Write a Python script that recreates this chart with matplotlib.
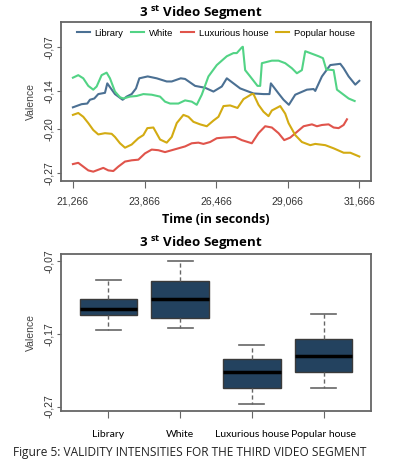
import matplotlib
matplotlib.use("Agg")
import matplotlib.pyplot as plt
from matplotlib.ticker import FuncFormatter

plt.rcParams["font.family"] = ["Liberation Sans", "DejaVu Sans"]
plt.rcParams["mathtext.fontset"] = "custom"
plt.rcParams["mathtext.rm"] = "Open Sans"
plt.rcParams["mathtext.bf"] = "Open Sans:bold"

# line chart data (time in seconds, valence)
library_t = [21266, 21581, 21787, 21884, 22042, 22187, 22430, 22514, 22611, 22793,
             23072, 23217, 23399, 23557, 23678, 23981, 24308, 24672, 24854, 25181,
             25339, 25702, 26066, 26369, 26672, 26854, 27096, 27339, 27823, 28187,
             28405, 28454, 28733, 28914, 29108, 29339, 29763, 30005, 30066, 30308,
             30611, 30975, 31096, 31278, 31520, 31666]
library_v = [-0.166, -0.161, -0.160, -0.154, -0.152, -0.145, -0.143, -0.128, -0.134, -0.145,
             -0.154, -0.149, -0.145, -0.136, -0.120, -0.117, -0.120, -0.125, -0.125, -0.120,
             -0.121, -0.132, -0.135, -0.141, -0.133, -0.120, -0.128, -0.136, -0.144, -0.145,
             -0.145, -0.128, -0.144, -0.154, -0.162, -0.146, -0.138, -0.137, -0.140, -0.117,
             -0.099, -0.097, -0.104, -0.117, -0.130, -0.124]

white_t = [21266, 21460, 21642, 21824, 22005, 22127, 22308, 22490, 22611, 22793,
           22975, 23096, 23339, 23581, 23824, 24127, 24430, 24611, 24793, 25096,
           25339, 25581, 25763, 25945, 26187, 26490, 26854, 27096, 27217, 27399,
           27436, 27520, 27702, 27969, 28066, 28127, 28490, 28733, 28975, 29217,
           29399, 29581, 29702, 29884, 30187, 30345, 30466, 30733, 30854, 31096,
           31278, 31496]
white_v = [-0.119, -0.115, -0.120, -0.132, -0.138, -0.133, -0.115, -0.111, -0.120, -0.141,
           -0.150, -0.152, -0.149, -0.148, -0.145, -0.146, -0.149, -0.157, -0.160, -0.160,
           -0.155, -0.157, -0.162, -0.146, -0.117, -0.099, -0.085, -0.080, -0.080, -0.071,
           -0.070, -0.107, -0.117, -0.132, -0.132, -0.096, -0.092, -0.092, -0.096, -0.104,
           -0.112, -0.107, -0.077, -0.080, -0.085, -0.088, -0.106, -0.107, -0.138, -0.146,
           -0.152, -0.156]

luxurious_t = [21266, 21460, 21642, 21824, 22005, 22187, 22369, 22551, 22733, 22914,
               23157, 23399, 23642, 23884, 24127, 24369, 24611, 24854, 25096, 25339,
               25581, 25823, 26005, 26248, 26490, 26733, 27157, 27399, 27763, 28005,
               28248, 28490, 28733, 28939, 29157, 29399, 29642, 29945, 30127, 30308,
               30551, 30733, 30914, 31096, 31217]
luxurious_v = [-0.256, -0.254, -0.260, -0.266, -0.268, -0.265, -0.262, -0.266, -0.267, -0.260,
               -0.252, -0.250, -0.249, -0.239, -0.233, -0.234, -0.237, -0.234, -0.231, -0.228,
               -0.223, -0.222, -0.224, -0.221, -0.215, -0.214, -0.213, -0.218, -0.223, -0.207,
               -0.196, -0.198, -0.207, -0.218, -0.214, -0.205, -0.196, -0.193, -0.196, -0.194,
               -0.193, -0.198, -0.199, -0.194, -0.185]

popular_t = [21266, 21460, 21642, 21824, 22005, 22187, 22430, 22672, 22793, 22975,
             23157, 23399, 23642, 23824, 23969, 24187, 24430, 24672, 24854, 25036,
             25278, 25460, 25642, 25884, 26127, 26369, 26551, 26733, 26975, 27242,
             27460, 27763, 27823, 28005, 28187, 28369, 28490, 28793, 28975, 29096,
             29339, 29581, 29884, 30066, 30430, 30733, 31096, 31339, 31666]
popular_v = [-0.178, -0.175, -0.181, -0.191, -0.202, -0.209, -0.207, -0.208, -0.213, -0.223,
             -0.230, -0.225, -0.215, -0.210, -0.199, -0.198, -0.217, -0.222, -0.213, -0.191,
             -0.178, -0.181, -0.189, -0.193, -0.196, -0.187, -0.181, -0.164, -0.163, -0.167,
             -0.153, -0.145, -0.145, -0.162, -0.173, -0.180, -0.171, -0.164, -0.176, -0.191,
             -0.210, -0.221, -0.226, -0.224, -0.226, -0.231, -0.238, -0.238, -0.244]

time_ticks = [21266, 23866, 26466, 29066, 31666]
line_yticks = [-0.07, -0.14, -0.20, -0.27]

# box plot data
categories = ["Library", "White", "Luxurious house", "Popular house"]
whisker_low = [-0.165, -0.162, -0.267, -0.244]
q1 = [-0.144, -0.148, -0.244, -0.222]
median = [-0.136, -0.1225, -0.223, -0.200]
q3 = [-0.123, -0.098, -0.205, -0.177]
whisker_high = [-0.0965, -0.070, -0.185, -0.1436]
box_yticks = [-0.07, -0.17, -0.27]

colors = {"Library": "#4b7093", "White": "#52d385",
          "Luxurious house": "#e0544b", "Popular house": "#d3ab12"}
edge_gray = "#666666"
tick_gray = "#333333"


def comma_dec(v, pos):
    return f"{v:.2f}".replace(".", ",")


def style_axes(ax):
    for sp in ax.spines.values():
        sp.set_color(edge_gray)
        sp.set_linewidth(1.3)
    ax.tick_params(axis="both", colors=edge_gray, labelcolor=tick_gray, labelsize=7.5)
    ax.tick_params(axis="y", length=3, pad=2)
    ax.tick_params(axis="x", length=5, pad=6)
    for lab in ax.get_yticklabels():
        lab.set_rotation(90)
        lab.set_va("center")


fig = plt.figure(figsize=(3.93, 4.68), dpi=100)

# --- line chart ---
ax1 = fig.add_axes([0.155, 0.613, 0.789, 0.340])
series = [("Library", library_t, library_v), ("White", white_t, white_v),
          ("Luxurious house", luxurious_t, luxurious_v),
          ("Popular house", popular_t, popular_v)]
for name, t, v in series:
    ax1.plot(t, v, color=colors[name], lw=1.5, label=name)
ax1.set_xlim(20830, 32090)
ax1.set_ylim(-0.283, -0.0307)
ax1.set_xticks(time_ticks)
ax1.xaxis.set_major_formatter(FuncFormatter(lambda v, p: f"{int(v):,}"))
ax1.set_yticks(line_yticks)
ax1.yaxis.set_major_formatter(FuncFormatter(comma_dec))
style_axes(ax1)
ax1.set_ylabel("Valence", fontsize=7.5, color="#444444", labelpad=6)
ax1.set_xlabel("Time (in seconds)", fontsize=9, fontweight="bold",
               family="Open Sans", labelpad=5)
ax1.legend(loc="upper center", ncol=4, frameon=False, fontsize=6.8,
           handlelength=1.4, handletextpad=0.5, columnspacing=0.8,
           borderaxespad=0.3, bbox_to_anchor=(0.5, 1.0))
fig.text(0.51, 0.972, r"3 $^{\mathbf{st}}$ Video Segment", ha="center", va="center",
         fontsize=9.5, fontweight="bold", family="Open Sans")

# --- box plot ---
ax2 = fig.add_axes([0.155, 0.122, 0.789, 0.335])
stats = []
for i, name in enumerate(categories):
    stats.append({"label": name, "whislo": whisker_low[i], "q1": q1[i],
                  "med": median[i], "q3": q3[i], "whishi": whisker_high[i],
                  "fliers": []})
ax2.bxp(stats, positions=[1, 2, 3, 4], widths=0.8, patch_artist=True,
        capwidths=0.35,
        boxprops=dict(facecolor="#23425f", edgecolor="#3a3a3a", linewidth=1.0),
        medianprops=dict(color="black", linewidth=2.5),
        whiskerprops=dict(color=edge_gray, linestyle=(0, (3, 2)), linewidth=1.0),
        capprops=dict(color=edge_gray, linewidth=1.2))
ax2.set_xlim(0.34, 4.66)
ax2.set_ylim(-0.276, -0.0609)
ax2.set_yticks(box_yticks)
ax2.yaxis.set_major_formatter(FuncFormatter(comma_dec))
style_axes(ax2)
ax2.tick_params(axis="x", pad=9, labelsize=7.5, labelcolor="black")
for lab in ax2.get_xticklabels():
    lab.set_family("Lato")
ax2.set_ylabel("Valence", fontsize=7.5, color="#444444", labelpad=6)
fig.text(0.51, 0.481, r"3 $^{\mathbf{st}}$ Video Segment", ha="center", va="center",
         fontsize=9.5, fontweight="bold", family="Open Sans")

fig.text(0.033, 0.034, "Figure 5: VALIDITY INTENSITIES FOR THE THIRD VIDEO SEGMENT",
         ha="left", va="center", fontsize=8.6, family="Open Sans", color="#222222")

fig.savefig("out.png", dpi=100)
